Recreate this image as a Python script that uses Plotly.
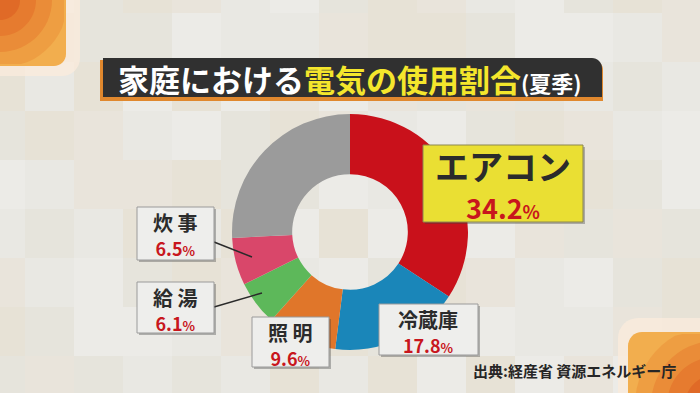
import plotly.graph_objects as go
import math

# ---- data ----
categories = ["エアコン", "冷蔵庫", "照明", "給湯", "炊事", "その他"]
shares = [34.2, 17.8, 9.6, 6.1, 6.5, 25.8]
slice_colors = ["#C9111B", "#1A86B9", "#E0762A", "#5DB85A", "#D9476A", "#9B9B9B"]
label_names = ["エアコン", "冷蔵庫", "照 明", "給 湯", "炊 事"]
label_values = ["34.2", "17.8", "9.6", "6.1", "6.5"]

W, H = 700, 393
def px(x): return x / W
def py(y): return 1 - y / H

fig = go.Figure()
fig.add_trace(go.Pie(
    values=shares, labels=categories, marker=dict(colors=slice_colors, line=dict(width=0)),
    hole=0.49, sort=False, direction="clockwise", rotation=0,
    textinfo="none", hoverinfo="label+percent", showlegend=False,
    domain=dict(x=[px(232), px(468)], y=[py(350), py(114)]),
))

shapes = []
annotations = []

# checkered background
shades = ["#E9E8E3", "#E7E2D6", "#ECEBE7", "#E9E4DB", "#E6E4DC"]
step = 49
for i in range(16):
    for j in range(10):
        x0 = -24 + i * step
        y0 = -36 + j * step
        c = shades[(i * 7 + j * 3 + (i * j) % 3) % 5]
        shapes.append(dict(type="rect", xref="paper", yref="paper", layer="below",
                           x0=px(x0), x1=px(x0 + step), y0=py(y0 + step), y1=py(y0),
                           fillcolor=c, line=dict(width=0)))

def rounded_rect_path(x0, y0, x1, y1, r_tl=0, r_tr=0, r_br=0, r_bl=0, n=8):
    pts = []
    def arc(cx, cy, r, a0, a1):
        for k in range(n + 1):
            a = a0 + (a1 - a0) * k / n
            pts.append((cx + r * math.cos(a), cy + r * math.sin(a)))
    if r_tl: arc(x0 + r_tl, y0 + r_tl, r_tl, math.pi, 1.5 * math.pi)
    else: pts.append((x0, y0))
    if r_tr: arc(x1 - r_tr, y0 + r_tr, r_tr, 1.5 * math.pi, 2 * math.pi)
    else: pts.append((x1, y0))
    if r_br: arc(x1 - r_br, y1 - r_br, r_br, 0, 0.5 * math.pi)
    else: pts.append((x1, y1))
    if r_bl: arc(x0 + r_bl, y1 - r_bl, r_bl, 0.5 * math.pi, math.pi)
    else: pts.append((x0, y1))
    return "M " + " L ".join(f"{px(a):.5f},{py(b):.5f}" for a, b in pts) + " Z"

def clipped_circle_path(cx, cy, r, x0, y0, x1, y1, n=60):
    pts = []
    for k in range(n + 1):
        a = 2 * math.pi * k / n
        x = min(max(cx + r * math.cos(a), x0), x1)
        y = min(max(cy + r * math.sin(a), y0), y1)
        pts.append((x, y))
    return "M " + " L ".join(f"{px(a):.5f},{py(b):.5f}" for a, b in pts) + " Z"

# top-left orange corner
shapes.append(dict(type="path", xref="paper", yref="paper", layer="below",
                   path=rounded_rect_path(-10, -10, 80, 76, r_br=18),
                   fillcolor="rgba(250,235,220,0.8)", line=dict(width=0)))
shapes.append(dict(type="path", xref="paper", yref="paper", layer="below",
                   path=rounded_rect_path(-10, -10, 66, 66, r_br=12),
                   fillcolor="#F2AE4E", line=dict(width=0)))
for r, c in [(68, "#EE9E42"), (52, "#EA8C38"), (36, "#E67B2F"), (20, "#E06A27")]:
    shapes.append(dict(type="path", xref="paper", yref="paper", layer="below",
                       path=clipped_circle_path(0, 0, r, -10, -10, 64, 64),
                       fillcolor=c, line=dict(width=0)))

# bottom-right orange corner
shapes.append(dict(type="path", xref="paper", yref="paper", layer="below",
                   path=rounded_rect_path(618, 318, 710, 403, r_tl=20),
                   fillcolor="rgba(250,235,220,0.8)", line=dict(width=0)))
shapes.append(dict(type="path", xref="paper", yref="paper", layer="below",
                   path=rounded_rect_path(628, 332, 710, 403, r_tl=14),
                   fillcolor="#F2AE4E", line=dict(width=0)))
for r, c in [(80, "#EE9E42"), (64, "#EA8C38"), (48, "#E67B2F"), (30, "#E06A27"), (14, "#D95A22")]:
    shapes.append(dict(type="path", xref="paper", yref="paper", layer="below",
                       path=clipped_circle_path(715, 405, r, 630, 334, 710, 403),
                       fillcolor=c, line=dict(width=0)))

# title bar
shapes.append(dict(type="path", xref="paper", yref="paper", layer="below",
                   path=rounded_rect_path(100, 60, 603, 101, r_tr=10),
                   fillcolor="#E0882E", line=dict(width=0)))
shapes.append(dict(type="path", xref="paper", yref="paper", layer="below",
                   path=rounded_rect_path(103, 58, 602, 97, r_tr=10),
                   fillcolor="#303030", line=dict(width=0)))
annotations.append(dict(
    xref="paper", yref="paper", x=px(350), y=py(78), xanchor="center", yanchor="middle",
    showarrow=False,
    text="<span style='color:#FFFFFF'>家庭における</span><span style='color:#F4E62C'>電気の使用割合</span>"
         "<span style='color:#FFFFFF;font-size:22px'>(夏季)</span>",
    font=dict(family="Noto Sans CJK JP", size=31, weight="bold")))

# leader lines
for (xa, ya, xb, yb) in [(214, 242, 252, 257), (214, 307, 262, 293)]:
    shapes.append(dict(type="line", xref="paper", yref="paper",
                       x0=px(xa), y0=py(ya), x1=px(xb), y1=py(yb),
                       line=dict(color="#2A2A2A", width=1.5)))

def label_box(x0, y0, x1, y1, fill, border):
    shapes.append(dict(type="rect", xref="paper", yref="paper",
                       x0=px(x0 + 2), x1=px(x1 + 2), y0=py(y1 + 2), y1=py(y0 + 2),
                       fillcolor="rgba(60,60,60,0.35)", line=dict(width=0)))
    shapes.append(dict(type="rect", xref="paper", yref="paper",
                       x0=px(x0), x1=px(x1), y0=py(y1), y1=py(y0),
                       fillcolor=fill, line=dict(color=border, width=1)))

def label_text(cx, cy, name, val, base, name_size, val_size, pct_size):
    text = (f"<span style='font-size:{name_size}px;color:#2B2B2B'>{name}</span><br>"
            f"<span style='font-size:{val_size}px;color:#C8161D'>{val}"
            f"<span style='font-size:{pct_size}px'>%</span></span>")
    annotations.append(dict(xref="paper", yref="paper", x=px(cx), y=py(cy),
                            xanchor="center", yanchor="middle", showarrow=False, text=text,
                            font=dict(family="Noto Sans CJK JP", size=base, weight="bold")))

# エアコン
label_box(423, 145, 583, 222, "#EADF33", "#8C8750")
label_text(503, 184, label_names[0], label_values[0], 30, 34, 27, 18)
# 冷蔵庫
label_box(379, 304, 478, 355, "#EEEEEC", "#9A9A9A")
label_text(428, 331, label_names[1], label_values[1], 19, 20, 18, 13)
# 照明
label_box(252, 317, 329, 367, "#EEEEEC", "#9A9A9A")
label_text(290, 344, label_names[2], label_values[2], 19, 20, 18, 13)
# 給湯
label_box(137, 282, 214, 333, "#EEEEEC", "#9A9A9A")
label_text(175, 309, label_names[3], label_values[3], 19, 20, 18, 13)
# 炊事
label_box(137, 207, 214, 260, "#EEEEEC", "#9A9A9A")
label_text(175, 235, label_names[4], label_values[4], 19, 20, 18, 13)

# source
annotations.append(dict(xref="paper", yref="paper", x=px(574), y=py(370),
                        xanchor="center", yanchor="middle", showarrow=False,
                        text="出典:経産省 資源エネルギー庁",
                        font=dict(family="Noto Sans CJK JP", size=15, color="#262626", weight="bold")))

fig.update_layout(
    width=W, height=H, margin=dict(l=0, r=0, t=0, b=0),
    paper_bgcolor="#E9E8E3", plot_bgcolor="#E9E8E3",
    shapes=shapes, annotations=annotations,
)
fig.write_html("out.html", config={"displayModeBar": False},
               post_script="document.body.style.margin='0';")
